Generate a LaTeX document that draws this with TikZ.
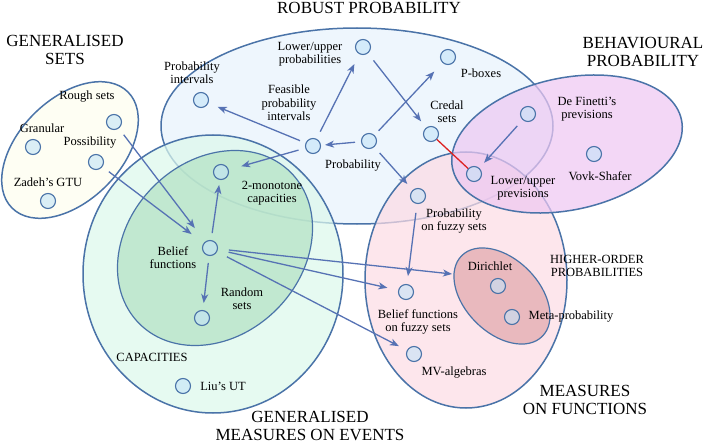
\documentclass[tikz,border=0pt]{standalone}
\usepackage{fontspec}
\setmainfont{Liberation Serif}
\usetikzlibrary{arrows.meta}

\definecolor{edgeblue}{HTML}{4A73A8}
\definecolor{arrowblue}{HTML}{5672B4}
\definecolor{robustfill}{HTML}{E8F3FC}
\definecolor{setsfill}{HTML}{FEFEEE}
\definecolor{capfill}{HTML}{DCF8EC}
\definecolor{belieffill}{HTML}{B4E2C4}
\definecolor{funcfill}{HTML}{FCDCE4}
\definecolor{behavfill}{HTML}{EEC8F2}
\definecolor{higherfill}{HTML}{E2A8AE}
\definecolor{dotfill}{HTML}{C4E4F8}
\definecolor{linkred}{HTML}{DD2222}

\tikzset{
  region/.style={draw=edgeblue, line width=1.5pt, fill opacity=0.72},
  dot/.style={circle, draw=edgeblue, line width=1.1pt, fill=dotfill, fill opacity=0.6,
    minimum size=15pt, inner sep=0pt},
  lab/.style={font=\fontsize{12.5}{13.3}\selectfont, align=center, inner sep=0pt},
  title/.style={font=\fontsize{17}{18.5}\selectfont, align=center, inner sep=0pt},
  arr/.style={draw=arrowblue, line width=1.3pt, -{Stealth[length=9pt,width=7pt,inset=2.5pt]}},
}

\begin{document}
\begin{tikzpicture}[x=1pt, y=-1pt]
    \useasboundingbox (0,0) rectangle (705,444);

    % Draw the regions (semi-transparent ellipses)
    \draw[region, fill=robustfill] (357,126) ellipse [x radius=196, y radius=98];
    \draw[region, fill=setsfill, rotate around={45:(70,150)}] (70,150) ellipse [x radius=82, y radius=51];
    \draw[region, fill=capfill] (213,274) ellipse [x radius=130, y radius=139];
    \draw[region, fill=belieffill, line width=1.2pt, rotate around={45:(215,248)}] (215,248) ellipse [x radius=107, y radius=87];
    \draw[region, fill=funcfill] (466,280) ellipse [x radius=101, y radius=128];
    \draw[region, fill=behavfill, rotate around={12:(567,144)}] (567,144) ellipse [x radius=117, y radius=66];
    \draw[region, fill=higherfill, line width=1.2pt, rotate around={-45:(502,296)}] (502,296) ellipse [x radius=57, y radius=37];

    % Region titles
    \node[title] (robusttitle) at (369,7.5) {ROBUST PROBABILITY};
    \node[title] (setstitle) at (65,50) {GENERALISED\\SETS};
    \node[title] (behavtitle) at (643,52) {BEHAVIOURAL\\PROBABILITY};
    \node[title] (eventstitle) at (310,426) {GENERALISED\\MEASURES ON EVENTS};
    \node[title] (functitle) at (585,400) {MEASURES\\ON FUNCTIONS};
    \node[lab] (captitle) at (152,357) {CAPACITIES};
    \node[lab] (highertitle) at (597,266) {HIGHER-ORDER\\PROBABILITIES};

    % Theories (small circles)
    \foreach \n/\x/\y in {rough/114/122, granular/33/147, possib/96/162, gtu/48/201,
        probint/201/100, lowupprob/363/47, feasible/313/146, twomono/221/172,
        pboxes/448/57, credal/431/134, prob/369/141, definetti/528/114,
        vovk/594/154, lowupprev/474/174, probfuzzy/418/196, belief/210/248,
        random/202/318, liu/183/386, dirichlet/498/286, meta/512/317,
        belfuzzy/406/292, mvalg/414/354}
        \node[dot] (\n) at (\x,\y) {};
    \coordinate (higheredge) at (452,274);

    % Labels of the theories
    \node[lab] (roughlab) at (87,97) {Rough sets};
    \node[lab] (granularlab) at (42,128) {Granular};
    \node[lab] (possiblab) at (90,143) {Possibility};
    \node[lab] (gtulab) at (48,182) {Zadeh's GTU};
    \node[lab] (probintlab) at (192,73) {Probability\\intervals};
    \node[lab] (lowupproblab) at (310,54) {Lower/upper\\probabilities};
    \node[lab] (feasiblelab) at (289,103) {Feasible\\probability\\intervals};
    \node[lab] (twomonolab) at (272,193) {2-monotone\\capacities};
    \node[lab] (pboxeslab) at (481,73) {P-boxes};
    \node[lab] (credallab) at (447,112) {Credal\\sets};
    \node[lab] (problab) at (353,166) {Probability};
    \node[lab] (definettilab) at (587,109) {De Finetti's\\previsions};
    \node[lab] (vovklab) at (600,176) {Vovk-Shafer};
    \node[lab] (lowupprevlab) at (523,188) {Lower/upper\\previsions};
    \node[lab] (probfuzzylab) at (454,221) {Probability\\on fuzzy sets};
    \node[lab] (belieflab) at (173,258) {Belief\\functions};
    \node[lab] (randomlab) at (242,299) {Random\\sets};
    \node[lab] (liulab) at (223,386) {Liu's UT};
    \node[lab] (dirichletlab) at (490,266) {Dirichlet};
    \node[lab] (metalab) at (571,317) {Meta-probability};
    \node[lab] (belfuzzylab) at (418,322) {Belief functions\\on fuzzy sets};
    \node[lab] (mvalglab) at (454,373) {MV-algebras};

    % Links between theories (source/target/start gap/end gap)
    \foreach \a/\b/\s/\e in {rough/belief/8/17, possib/belief/8/15,
        feasible/probint/6/10, feasible/lowupprob/8/11, prob/feasible/6/4,
        feasible/twomono/7/13, prob/pboxes/6/12, lowupprob/credal/9/8,
        prob/probfuzzy/8/8, definetti/lowupprev/8/7, belief/twomono/7/5,
        belief/random/7/7, belief/belfuzzy/11/11, belief/mvalg/11/9,
        probfuzzy/belfuzzy/9/8}
        \draw[arr, shorten <=\s pt, shorten >=\e pt] (\a) -- (\b);
    \draw[arr, shorten <=11pt] (belief) -- (higheredge);

    % Credal sets and lower/upper previsions are equivalent
    \draw[linkred, line width=1.3pt] (credal) -- (lowupprev);

\end{tikzpicture}
\end{document}
